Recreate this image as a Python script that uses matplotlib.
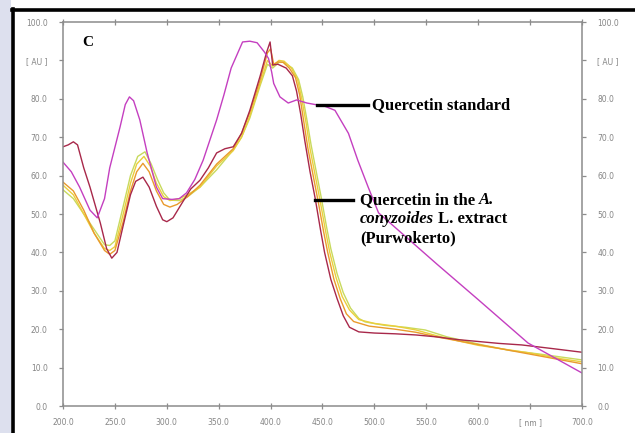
import matplotlib
matplotlib.use('Agg')
import matplotlib.pyplot as plt
from matplotlib.lines import Line2D
from matplotlib.patches import Rectangle

# Quercetin standard (magenta)
std_nm = [200, 208, 216, 226, 233, 240, 245, 255, 260, 264, 268, 274, 281, 290, 296, 305, 312,
          319, 327, 335, 348, 355, 362, 373, 380, 387, 394, 398, 401, 403, 409, 417, 425, 435,
          445, 450, 462, 475, 484, 494, 504, 520, 560, 600, 648, 700]
std_au = [63.5, 61, 57, 51, 49, 54, 62, 72.7, 78.5, 80.5, 79.5, 74.5, 66, 57, 54, 53.8, 54,
          55.5, 59, 64, 74.5, 81, 88, 94.8, 95, 94.6, 92.2, 90.5, 87, 84, 80.5, 78.9, 79.7, 78.9,
          78.4, 78.3, 77, 71, 64, 57, 50.3, 46.5, 37, 27.7, 16.4, 8.6]

# extract runs
red_nm = [200, 205, 210, 214, 220, 226, 236, 242, 247, 252, 258, 265, 270, 277, 283, 290, 296,
          300, 306, 315, 323, 332, 340, 348, 356, 364, 372, 380, 390, 396, 399.5, 402, 407, 415,
          421, 425, 429, 433, 438, 443, 448, 452, 458, 464, 470, 476, 485, 500, 520, 540, 560,
          580, 600, 620, 642, 670, 700]
red_au = [67.5, 68, 68.8, 68, 62, 57, 47.6, 41, 38.5, 40, 47, 55, 58.5, 59.6, 57, 52, 48.5,
          48, 49, 53, 56.5, 58.8, 62, 65.9, 67, 67.5, 71, 77, 86, 92, 94.8, 88.8, 89, 88,
          86, 82, 76, 69, 61, 54, 46, 40, 33, 28, 23.5, 20.5, 19.3, 19, 18.8, 18.5, 18,
          17.3, 16.8, 16.3, 15.9, 15, 14]

orange_nm = [200, 210, 220, 230, 240, 245, 250, 258, 265, 271, 277, 283, 290, 297, 303, 310, 320,
             332, 348, 364, 372, 380, 390, 397, 400, 403, 407, 412, 418, 424, 428, 432, 436, 441,
             446, 451, 455, 461, 467, 473, 480, 495, 520, 540, 560, 580, 600, 620, 650, 680, 700]
orange_au = [58.3, 56, 51, 45, 40.5, 39.5, 40.5, 48, 56, 61, 63.2, 61, 56, 52.5, 51.8, 52.5, 54.5,
             57.5, 63, 67, 71, 76.5, 85, 92, 93, 89, 89.6, 89.5, 88, 85.5, 81, 74, 67, 60,
             53, 45.5, 40, 33, 28, 24, 22, 20.8, 20, 19.2, 18, 17, 16, 15, 13.5, 12, 11]

yellow_nm = [200, 210, 220, 230, 240, 245, 250, 258, 265, 271, 278, 284, 290, 297, 303, 312, 320,
             332, 348, 364, 372, 380, 390, 397, 402, 408, 413, 420, 426, 430, 434, 438, 443, 448,
             453, 457, 463, 469, 476, 485, 500, 520, 540, 560, 580, 600, 620, 650, 680, 700]
yellow_au = [57.5, 55, 50, 45, 41, 40.5, 41.5, 50, 58, 63, 65, 62.5, 58, 54.5, 53.5, 54, 55,
             57, 62.5, 66.5, 70, 75.5, 84, 90, 88.5, 90, 89.8, 88, 85, 80, 74, 67, 60, 53,
             45.5, 40, 33.5, 28.5, 25, 22.5, 21.5, 20.8, 19.8, 18.3, 17, 15.8, 15, 13.8, 12.3, 11.5]

green_nm = [200, 210, 220, 230, 240, 245, 250, 258, 265, 272, 279, 285, 291, 297, 303, 312, 320,
            332, 348, 364, 372, 380, 390, 397, 402, 408, 413, 421, 427, 431, 435, 439, 444, 449,
            454, 458, 464, 470, 477, 485, 491, 510, 530, 549, 570, 604, 630, 660, 700]
green_au = [56.3, 54, 50, 46, 42, 41.8, 43, 52, 60, 65, 66.2, 63, 59, 55.5, 53.6, 53.5, 54.5,
            57, 61.5, 66.7, 70, 75, 83.5, 89, 88, 89.5, 89.5, 88, 85, 80.5, 74.5, 68, 61, 54,
            46.5, 41, 34.5, 29.5, 25.5, 22.8, 21.9, 21, 20.5, 19.8, 18, 15.9, 14.5, 13.5, 12]

x_ticks = [200, 250, 300, 350, 400, 450, 500, 550, 600, 650, 700]
x_labels = ['200.0', '250.0', '300.0', '350.0', '400.0', '450.0', '500.0', '550.0', '600.0', '[ nm ]', '700.0']
y_ticks = [0, 10, 20, 30, 40, 50, 60, 70, 80, 90, 100]
y_labels = ['0.0', '10.0', '20.0', '30.0', '40.0', '50.0', '60.0', '70.0', '80.0', '[ AU ]', '100.0']

fig = plt.figure(figsize=(6.35, 4.33), dpi=100)
fig.patch.set_facecolor('white')

# outer frame of the screenshot
fig.patches.append(Rectangle((0, 0), 11 / 635, 1, transform=fig.transFigure,
                             facecolor='#dde0ee', edgecolor='none', zorder=0))
fig.lines.append(Line2D([13 / 635, 13 / 635], [0, 1 - 9 / 433], transform=fig.transFigure,
                        color='black', lw=2.6))
fig.lines.append(Line2D([12 / 635, 1], [1 - 9.5 / 433, 1 - 9.5 / 433], transform=fig.transFigure,
                        color='black', lw=2.6))

ax = fig.add_axes([63 / 635, 27 / 433, 519 / 635, 384 / 433])
ax.set_facecolor('white')

ax.plot(green_nm, green_au, color='#c8da5e', lw=1.0)
ax.plot(yellow_nm, yellow_au, color='#ebcf3c', lw=1.0)
ax.plot(orange_nm, orange_au, color='#e99a2c', lw=1.0)
ax.plot(red_nm, red_au, color='#a8284a', lw=1.0)
ax.plot(std_nm, std_au, color='#c43fc0', lw=1.0)

ax.set_xlim(200, 700)
ax.set_ylim(0, 100)
ax.set_xticks(x_ticks)
ax.set_xticklabels(x_labels)
ax.set_yticks(y_ticks)
ax.set_yticklabels(y_labels)

for s in ax.spines.values():
    s.set_color('#8c8c8c')
    s.set_linewidth(1.1)

ax.tick_params(axis='both', colors='#8c8c8c', labelcolor='#858585', labelsize=5.5,
               length=3, width=0.9)
ax.tick_params(axis='y', left=True, right=True, labelleft=True, labelright=True,
               direction='out', pad=8)
ax.tick_params(axis='x', top=True, bottom=True, direction='inout', pad=6, length=5)
ax.tick_params(axis='x', which='major', top=True, labeltop=False)

serif = 'Liberation Serif'
ax.text(218.3, 94.7, 'C', family=serif, weight='bold', fontsize=11, va='center', ha='left')

# annotations
ax.plot([444.7, 493.8], [78.4, 78.4], color='black', lw=2.4, clip_on=False)
ax.text(497.7, 78.4, 'Quercetin standard', family=serif, weight='bold', fontsize=12,
        va='center', ha='left')

ax.plot([442.8, 479.4], [53.6, 53.6], color='black', lw=2.4, clip_on=False)
t1 = ax.text(486, 53.6, 'Quercetin in the ', family=serif, weight='bold', fontsize=12,
             va='center', ha='left')
ax.annotate('A.', xy=(1, 0), xycoords=t1, va='bottom', ha='left', family=serif,
            weight='bold', style='italic', fontsize=12)
t2 = ax.text(486, 48.6, 'conyzoides', family=serif, weight='bold', style='italic', fontsize=12,
             va='center', ha='left')
ax.annotate(' L. extract', xy=(1, 0), xycoords=t2, va='bottom', ha='left', family=serif,
            weight='bold', fontsize=12)
ax.text(486, 43.7, '(Purwokerto)', family=serif, weight='bold', fontsize=12,
        va='center', ha='left')

fig.savefig('out.png', dpi=100)
